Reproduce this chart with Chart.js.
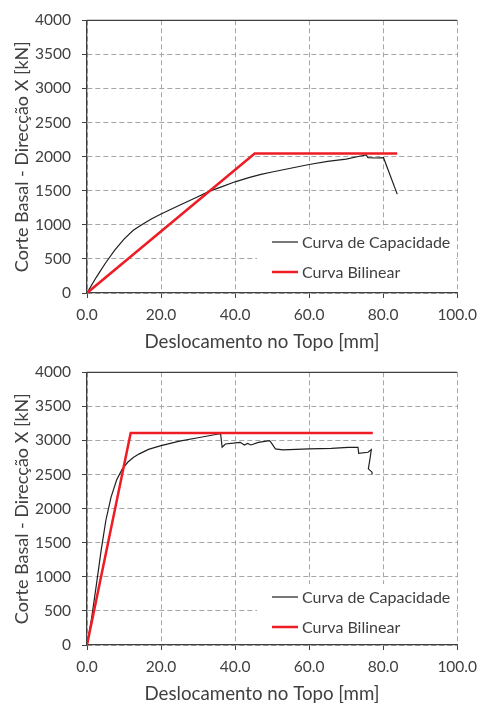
<!DOCTYPE html>
<html>
<head>
<meta charset="utf-8">
<script src="https://cdn.jsdelivr.net/npm/chart.js@4.4.1/dist/chart.umd.min.js"></script>
<style>
  html, body { margin: 0; padding: 0; background: #fff; overflow: hidden; }
  canvas { display: block; }
</style>
</head>
<body>
<canvas id="chartTop" width="485" height="352"></canvas>
<canvas id="chartBottom" width="485" height="352"></canvas>
<script>
// series names
const seriesNames = ['Curva de Capacidade', 'Curva Bilinear'];
const xTitle = 'Deslocamento no Topo [mm]';
const yTitle = 'Corte Basal - Direcção X [kN]';

// axis ticks
const xTickValues = [0, 20, 40, 60, 80, 100];
const xTickLabels = ['0.0', '20.0', '40.0', '60.0', '80.0', '100.0'];
const yTickValues = [0, 500, 1000, 1500, 2000, 2500, 3000, 3500, 4000];
const yTickLabels = ['0', '500', '1000', '1500', '2000', '2500', '3000', '3500', '4000'];

// top chart - capacity curve
const capDispTop = [0, 2.5, 5, 7.5, 10, 12.5, 15, 17.5, 20, 24.7, 29.5, 33, 36.5, 40, 43.7, 47, 50, 55, 60, 65, 70, 73.9, 75.4, 75.9, 78, 80.1, 83.8];
const capForceTop = [0, 230, 440, 630, 790, 920, 1010, 1090, 1160, 1280, 1401, 1490, 1560, 1631, 1693, 1740, 1775, 1830, 1885, 1930, 1965, 2010, 2025, 1985, 1980, 1985, 1450];
// top chart - bilinear
const bilDispTop = [0, 45.3, 83.8];
const bilForceTop = [0, 2045, 2045];

// bottom chart - capacity curve
const capDispBot = [0, 1.2, 2.5, 3.8, 5.1, 6.5, 8, 9.5, 11, 12.5, 14, 16.6, 20, 25, 30, 35.5, 36.1, 36.5, 37.4, 39.5, 41.4, 42.5, 43.4, 44.3, 46.3, 49.3, 49.7, 50.9, 52.9, 60, 66, 70.6, 73.2, 73.4, 75.9, 76.8, 76.5, 76.0, 77.0, 77.0];
const capForceBot = [0, 380, 870, 1380, 1830, 2170, 2420, 2580, 2680, 2750, 2800, 2870, 2925, 2990, 3040, 3095, 3095, 2900, 2949, 2960, 2973, 2934, 2957, 2934, 2973, 2997, 2973, 2876, 2862, 2876, 2885, 2900, 2900, 2812, 2827, 2866, 2750, 2584, 2535, 2500];
// bottom chart - bilinear
const bilDispBot = [0, 11.8, 77.2];
const bilForceBot = [0, 3110, 3110];

const FONT = 'Lato, "Liberation Sans", sans-serif';
const TEXT = '#404040';

function pts(xs, ys) {
  return xs.map((x, i) => ({ x: x, y: ys[i] }));
}

// draws the top frame line, the boxed legend and the x title
const framePlugin = {
  id: 'frameLegend',
  afterDatasetsDraw(chart, args, opts) {
    const ctx = chart.ctx;
    const area = chart.chartArea;
    ctx.save();
    // legend box
    ctx.fillStyle = '#fff';
    ctx.fillRect(257, opts.legendTop, area.right - 258, area.bottom - opts.legendTop - 1);
    chart.data.datasets.forEach((ds, i) => {
      const y = opts.legendTop + 13 + i * 30;
      ctx.strokeStyle = ds.borderColor;
      ctx.lineWidth = ds.borderWidth;
      ctx.beginPath();
      ctx.moveTo(272, y);
      ctx.lineTo(298, y);
      ctx.stroke();
      ctx.fillStyle = TEXT;
      ctx.font = '16px ' + FONT;
      ctx.textAlign = 'left';
      ctx.textBaseline = 'middle';
      ctx.fillText(ds.label, 302, y + 1);
    });
    ctx.restore();
  },
  afterDraw(chart, args, opts) {
    const ctx = chart.ctx;
    const area = chart.chartArea;
    ctx.save();
    ctx.strokeStyle = TEXT;
    ctx.lineWidth = 1.3;
    ctx.beginPath();
    ctx.moveTo(area.left, area.top);
    ctx.lineTo(area.right, area.top);
    ctx.stroke();
    ctx.fillStyle = TEXT;
    ctx.font = '18.7px ' + FONT;
    ctx.textAlign = 'center';
    ctx.textBaseline = 'middle';
    ctx.fillText(xTitle, 262, 342);
    ctx.restore();
  }
};

function makeChart(id, capX, capY, bilX, bilY, legendTop) {
  const axisCommon = {
    type: 'linear',
    grid: { color: '#a6a6a6', lineWidth: 1, tickColor: TEXT, tickLength: 5, tickWidth: 1 },
    border: { color: TEXT, width: 1.3, dash: [5, 3] },
  };
  return new Chart(document.getElementById(id), {
    type: 'scatter',
    data: {
      datasets: [
        {
          label: seriesNames[0],
          data: pts(capX, capY),
          showLine: true,
          borderColor: '#1f1f1f',
          borderWidth: 1.2,
          pointRadius: 0,
          order: 1
        },
        {
          label: seriesNames[1],
          data: pts(bilX, bilY),
          showLine: true,
          borderColor: '#ee1c24',
          borderWidth: 2.5,
          pointRadius: 0,
          order: 0
        }
      ]
    },
    options: {
      responsive: false,
      animation: false,
      devicePixelRatio: 1,
      events: [],
      layout: { padding: { top: 19, right: 22, left: 0, bottom: 0 } },
      plugins: {
        legend: { display: false },
        tooltip: { enabled: false },
        frameLegend: { legendTop: legendTop }
      },
      scales: {
        x: Object.assign({}, axisCommon, {
          min: 0, max: 100,
          afterBuildTicks: s => { s.ticks = xTickValues.map(v => ({ value: v })); },
          ticks: {
            font: { family: FONT, size: 15.5 }, color: TEXT, padding: 8,
            callback: v => xTickLabels[xTickValues.indexOf(v)]
          },
          afterFit: s => { s.height = 59; }
        }),
        y: Object.assign({}, axisCommon, {
          min: 0, max: 4000,
          afterBuildTicks: s => { s.ticks = yTickValues.map(v => ({ value: v })); },
          ticks: {
            font: { family: FONT, size: 15.5 }, color: TEXT, padding: 11,
            callback: v => yTickLabels[yTickValues.indexOf(v)]
          },
          title: {
            display: true, text: yTitle, color: TEXT,
            font: { family: FONT, size: 18 }, padding: { top: 11, bottom: 0 }
          },
          afterFit: s => { s.width = 87; }
        })
      }
    },
    plugins: [framePlugin]
  });
}

makeChart('chartTop', capDispTop, capForceTop, bilDispTop, bilForceTop, 229);
makeChart('chartBottom', capDispBot, capForceBot, bilDispBot, bilForceBot, 232);
</script>
</body>
</html>
